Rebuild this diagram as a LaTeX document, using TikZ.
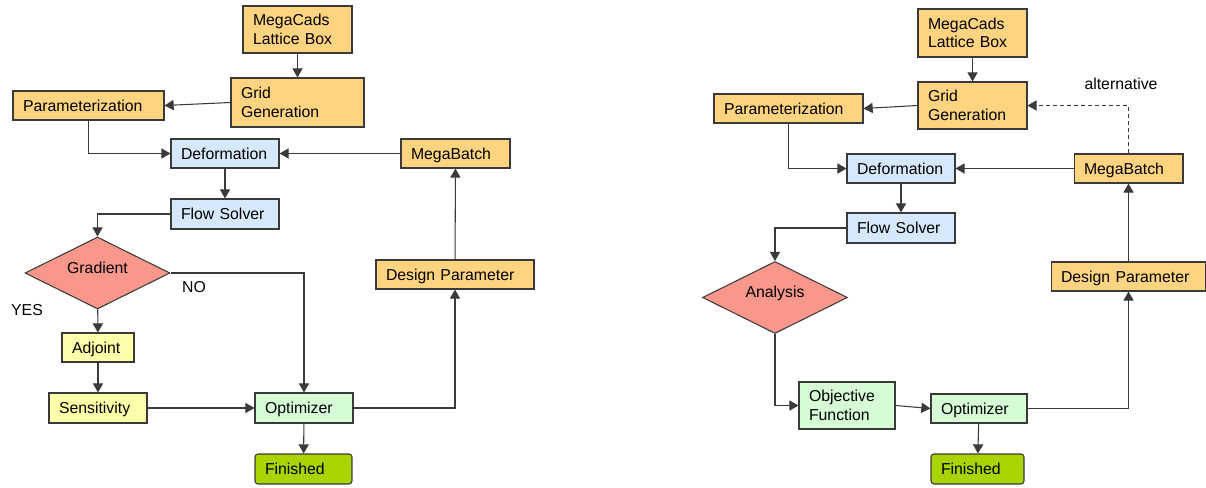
\documentclass[tikz,border=0pt]{standalone}
\usepackage{fontspec}
\setmainfont{Liberation Sans}
\usetikzlibrary{shapes.geometric,arrows.meta,positioning}
\hyphenpenalty=10000

\definecolor{cadorange}{HTML}{FFD480}
\definecolor{solverblue}{HTML}{D5E8FC}
\definecolor{decisionred}{HTML}{F9978A}
\definecolor{adjointyellow}{HTML}{FFFFAA}
\definecolor{optgreen}{HTML}{D6FCD6}
\definecolor{donegreen}{HTML}{A8D400}
\definecolor{edgegray}{HTML}{3A3A3A}

\tikzset{
  chartfont/.style={font=\fontsize{9}{10.5}\selectfont},
  process/.style={draw=edgegray, line width=0.6pt, inner xsep=0.2cm, inner ysep=0pt, align=left, chartfont},
  oneline/.style={text depth=0pt},
  cadbox/.style={process, fill=cadorange},
  solverbox/.style={process, oneline, fill=solverblue},
  adjointbox/.style={process, oneline, fill=adjointyellow},
  optbox/.style={process, fill=optgreen},
  donebox/.style={process, oneline, fill=donegreen, rounded corners=1.7pt},
  decision/.style={diamond, aspect=2, draw=edgegray, line width=0.6pt, fill=decisionred, inner sep=0pt,
    minimum width=2.9cm, minimum height=1.44cm, text height=6.6pt, text depth=6.6pt, chartfont},
  link/.style={-{Triangle[length=5.2pt,width=5.8pt]}, draw=edgegray, line width=0.6pt},
  remark/.style={inner sep=0pt, chartfont}
}

\begin{document}
\begin{tikzpicture}[x=0.02cm, y=-0.02cm]
  \useasboundingbox (0,0) rectangle (1206,487);

  % Define nodes (left chart: adjoint method)
  \node[cadbox, text width=1.78cm, minimum height=0.94cm] (Lattice) at (297.5,29.5) {MegaCads\\Lattice~Box};
  \node[cadbox, text width=2.26cm, minimum height=0.98cm] (Grid) at (297.5,102.5) {Grid\\Generation};
  \node[cadbox, oneline, text width=2.62cm, minimum height=0.58cm] (Param) at (88.5,105.5) {Parameterization};
  \node[solverbox, text width=1.76cm, minimum height=0.58cm] (Deform) at (225,153.5) {Deformation};
  \node[cadbox, oneline, text width=1.78cm, minimum height=0.58cm] (Batch) at (455.5,153.5) {MegaBatch};
  \node[solverbox, text width=1.76cm, minimum height=0.6cm] (Solver) at (225,214) {Flow~Solver};
  \node[decision] (Gradient) at (97.5,273) {Gradient};
  \node[cadbox, oneline, text width=2.76cm, minimum height=0.58cm] (Design) at (455,274.5) {Design~Parameter};
  \node[adjointbox, text width=1.04cm, minimum height=0.58cm] (Adjoint) at (98,347.5) {Adjoint};
  \node[adjointbox, text width=1.56cm, minimum height=0.6cm] (Sens) at (98,408) {Sensitivity};
  \node[optbox, oneline, text width=1.56cm, minimum height=0.6cm] (Opt) at (304,408) {Optimizer};
  \node[donebox, text width=1.54cm, minimum height=0.6cm] (Done) at (303.5,469) {Finished};
  \node[remark] (Yes) at (27,310) {YES};
  \node[remark] (No) at (194,287) {NO};

  % Connect the nodes
  \draw[link] (Lattice) -- (Grid);
  \draw[link] (Grid.west) -- (Param.east);
  \draw[link] (Param.south) |- (Deform.west);
  \draw[link] (Batch) -- (Deform);
  \draw[link] (Deform) -- (Solver);
  \draw[link] (Solver.west) -| (Gradient.north);
  \draw[link] (Gradient.east) -| (Opt.north);
  \draw[link] (Gradient) -- (Adjoint);
  \draw[link] (Adjoint) -- (Sens);
  \draw[link] (Sens) -- (Opt);
  \draw[link] (Opt) -- (Done);
  \draw[link] (Opt.east) -| (Design.south);
  \draw[link] (Design) -- (Batch);

  % Define nodes (right chart: direct analysis)
  \node[cadbox, text width=1.78cm, minimum height=0.96cm] (LatticeR) at (972.5,33) {MegaCads\\Lattice~Box};
  \node[cadbox, text width=1.78cm, minimum height=0.94cm] (GridR) at (972.5,105.5) {Grid\\Generation};
  \node[cadbox, oneline, text width=2.58cm, minimum height=0.58cm] (ParamR) at (788.5,108.5) {Parameterization};
  \node[solverbox, text width=1.76cm, minimum height=0.58cm] (DeformR) at (901,168.5) {Deformation};
  \node[cadbox, oneline, text width=1.78cm, minimum height=0.58cm] (BatchR) at (1128.5,168.5) {MegaBatch};
  \node[solverbox, text width=1.76cm, minimum height=0.6cm] (SolverR) at (901,228) {Flow~Solver};
  \node[decision] (Analysis) at (775,297.5) {Analysis};
  \node[cadbox, oneline, text width=2.7cm, minimum height=0.58cm] (DesignR) at (1128.5,276.5) {Design~Parameter};
  \node[optbox, text width=1.52cm, minimum height=0.94cm] (Objective) at (847,405.5) {Objective\\Function};
  \node[optbox, oneline, text width=1.52cm, minimum height=0.58cm] (OptR) at (979,408.5) {Optimizer};
  \node[donebox, text width=1.46cm, minimum height=0.6cm] (DoneR) at (977.5,469) {Finished};
  \node[remark] (Alt) at (1121,84) {alternative};

  % Connect the nodes
  \draw[link] (LatticeR) -- (GridR);
  \draw[link] (GridR.west) -- (ParamR.east);
  \draw[link] (ParamR.south) |- (DeformR.west);
  \draw[link] (BatchR) -- (DeformR);
  \draw[link] (DeformR) -- (SolverR);
  \draw[link] (SolverR.west) -| (Analysis.north);
  \draw[link] (Analysis.south) |- (Objective.west);
  \draw[link] (Objective.east) -- (OptR.west);
  \draw[link] (OptR) -- (DoneR);
  \draw[link] (OptR.east) -| (DesignR.south);
  \draw[link] (DesignR) -- (BatchR);
  \draw[link, dash pattern=on 2.3pt off 1.7pt] (BatchR.north) |- (GridR.east);

\end{tikzpicture}
\end{document}
